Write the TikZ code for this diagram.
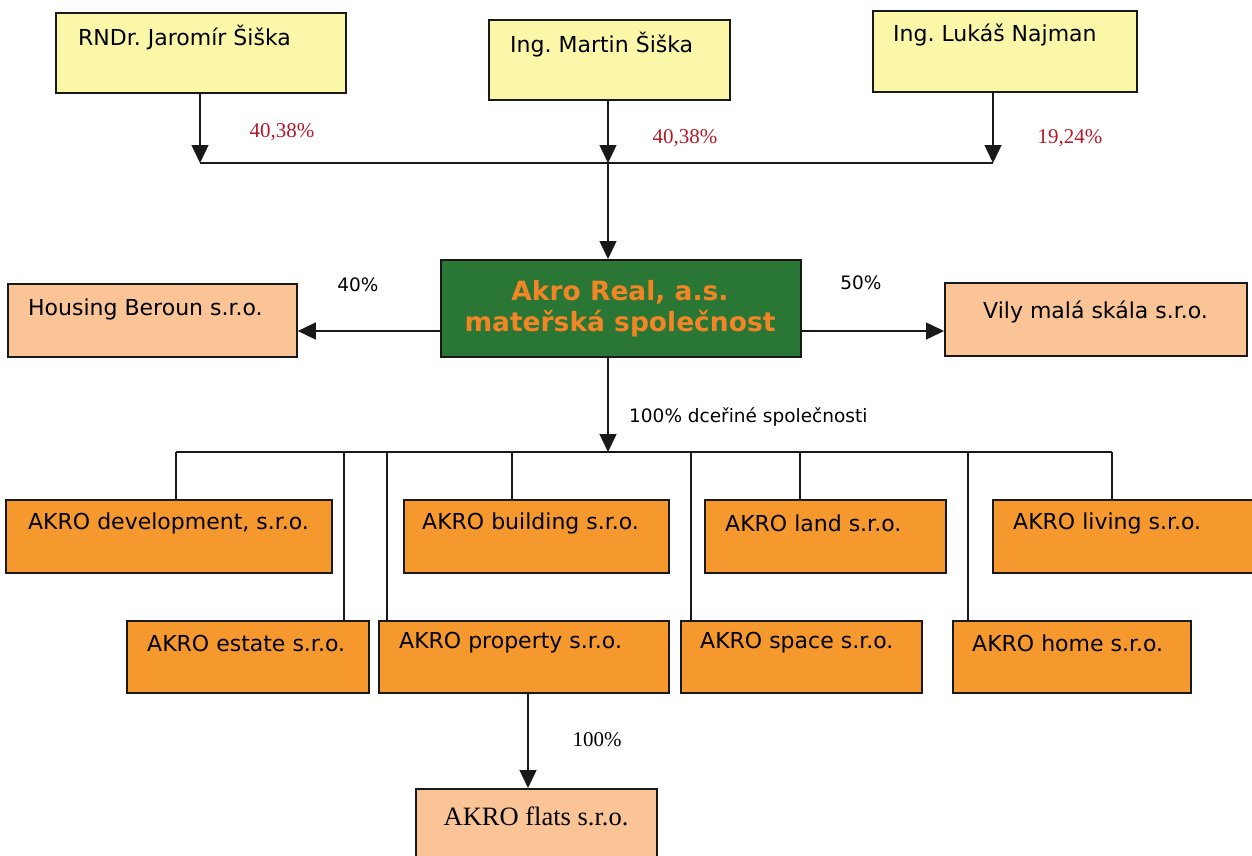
\documentclass[tikz,border=0pt]{standalone}
\usepackage{fontspec}
\setmainfont{DejaVu Sans}
\newfontfamily\tms{Liberation Serif}
\usetikzlibrary{arrows.meta}
\frenchspacing
\definecolor{yell}{RGB}{250,248,168}
\definecolor{peach}{RGB}{250,196,150}
\definecolor{orng}{RGB}{245,152,45}
\definecolor{dgreen}{RGB}{42,118,52}
\definecolor{akroorange}{RGB}{242,133,38}
\definecolor{pctred}{RGB}{180,25,40}
\begin{document}
\begin{tikzpicture}[x=1pt,y=-1pt,
  box/.style={draw=black!90,line width=1.8pt,anchor=north west,inner sep=0pt},
  ybox/.style={box,fill=yell},
  pbox/.style={box,fill=peach},
  obox/.style={box,fill=orng},
  gbox/.style={box,fill=dgreen},
  txt/.style={anchor=west,inner sep=0pt,font=\frenchspacing\fontsize{22}{26}\selectfont},
  pctlab/.style={anchor=center,inner sep=0pt,text=pctred,font=\tms\fontsize{21}{25}\selectfont},
  smlab/.style={inner sep=0pt,font=\frenchspacing\fontsize{18.5}{22}\selectfont},
  conn/.style={line width=1.4pt,draw=black!90},
  arr/.style={conn,-{Triangle[width=17pt,length=18pt]}}
]
\useasboundingbox (0,0) rectangle (1252,855);

% owners
\node[ybox,minimum width=290pt,minimum height=80pt] (jar) at (55,12) {};
\node[ybox,minimum width=241pt,minimum height=80pt] (mar) at (488,19) {};
\node[ybox,minimum width=264pt,minimum height=81pt] (luk) at (872,10) {};
\node[txt] (jarT) at (78,37) {RNDr. Jaromír Šiška};
\node[txt] (marT) at (510,45) {Ing. Martin Šiška};
\node[txt] (lukT) at (893,35) {Ing. Lukáš Najman};

% parent
\node[gbox,minimum width=360pt,minimum height=97pt] (akro) at (440,259) {};
\node[inner sep=0pt,align=center,text=akroorange,
      font=\bfseries\fontsize{26.5}{31}\selectfont] (akroT) at (620,309)
      {Akro Real, a.s.\\mateřská společnost};

% side companies
\node[pbox,minimum width=289pt,minimum height=73pt] (hous) at (7,283) {};
\node[pbox,minimum width=302pt,minimum height=73pt] (vily) at (944,282) {};
\node[txt] (housT) at (28,309) {Housing Beroun s.r.o.};
\node[txt] (vilyT) at (983,312) {Vily malá skála s.r.o.};

% subsidiaries row 1
\node[obox,minimum width=326pt,minimum height=73pt] (dev) at (5,499) {};
\node[obox,minimum width=265pt,minimum height=73pt] (bld) at (403,499) {};
\node[obox,minimum width=241pt,minimum height=73pt] (land) at (704,499) {};
\node[obox,minimum width=264pt,minimum height=73pt] (liv) at (992,499) {};
% row 2
\node[obox,minimum width=242pt,minimum height=72pt] (est) at (126,620) {};
\node[obox,minimum width=290pt,minimum height=72pt] (prop) at (378,620) {};
\node[obox,minimum width=241pt,minimum height=72pt] (spc) at (680,620) {};
\node[obox,minimum width=238pt,minimum height=72pt] (home) at (952,620) {};
% flats
\node[pbox,minimum width=241pt,minimum height=85pt] (flats) at (415,788) {};

\node[txt] (devT) at (28,523) {AKRO development, s.r.o.};
\node[txt] (bldT) at (422,523) {AKRO building s.r.o.};
\node[txt] (landT) at (725,523) {AKRO land s.r.o.};
\node[txt] (livT) at (1013,523) {AKRO living s.r.o.};
\node[txt] (estT) at (147,643) {AKRO estate s.r.o.};
\node[txt] (propT) at (399,643) {AKRO property s.r.o.};
\node[txt] (spcT) at (700,643) {AKRO space s.r.o.};
\node[txt] (homeT) at (972,643) {AKRO home s.r.o.};
\node[inner sep=0pt,font=\tms\fontsize{26.5}{30}\selectfont] (flatsT) at (536,816) {AKRO flats s.r.o.};

% owner connectors
\coordinate (busL) at (200,163);
\coordinate (busM) at (608,163);
\coordinate (busR) at (993,163);
\draw[conn] (busL) -- (busR);
\draw[arr] (jar.south -| busL) -- (busL);
\draw[arr] (mar.south -| busM) -- (busM);
\draw[arr] (luk.south -| busR) -- (busR);
\draw[arr] (busM) -- (busM |- akro.north);

\node[pctlab] (p1) at (282,132) {40,38\%};
\node[pctlab] (p2) at (685,138) {40,38\%};
\node[pctlab] (p3) at (1070,138) {19,24\%};

% side connectors
\coordinate (hy) at (620,331);
\draw[arr] (akro.west |- hy) -- (hous.east |- hy);
\draw[arr] (akro.east |- hy) -- (vily.west |- hy);
\node[smlab] (p40) at (358,285) {40\%};
\node[smlab] (p50) at (861,283) {50\%};

% subsidiaries bus
\coordinate (sbM) at (608,452);
\draw[arr] (busM |- akro.south) -- (sbM);
\node[smlab,anchor=west] (p100d) at (629,417) {100\% dceřiné společnosti};
\coordinate (d1) at (176,452);
\coordinate (d2) at (344,452);
\coordinate (d3) at (387,452);
\coordinate (d4) at (512,452);
\coordinate (d5) at (691,452);
\coordinate (d6) at (800,452);
\coordinate (d7) at (968,452);
\coordinate (d8) at (1112,452);
\draw[conn] (d1) -- (d8);
\draw[conn] (d1) -- (d1 |- dev.north);
\draw[conn] (d2) -- (d2 |- est.north);
\draw[conn] (d3) -- (d3 |- prop.north);
\draw[conn] (d4) -- (d4 |- bld.north);
\draw[conn] (d5) -- (d5 |- spc.north);
\draw[conn] (d6) -- (d6 |- land.north);
\draw[conn] (d7) -- (d7 |- home.north);
\draw[conn] (d8) -- (d8 |- liv.north);

% flats connector
\coordinate (fx) at (528,700);
\draw[arr] (prop.south -| fx) -- (flats.north -| fx);
\node[inner sep=0pt,font=\tms\fontsize{21}{25}\selectfont] (p100) at (597,740) {100\%};
\end{tikzpicture}
\end{document}
